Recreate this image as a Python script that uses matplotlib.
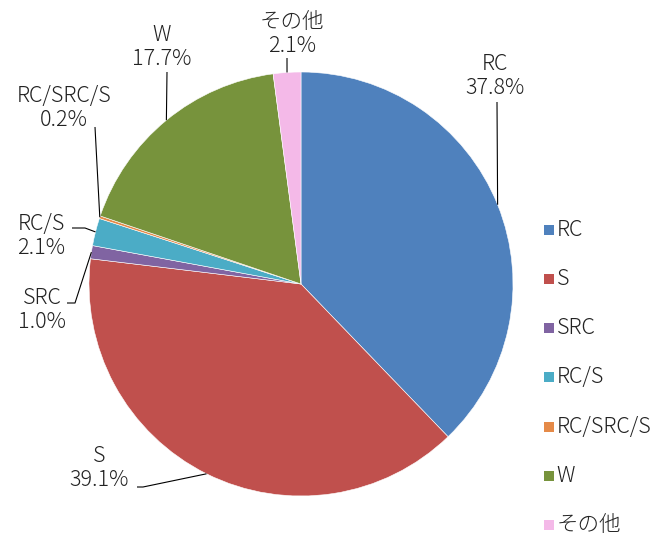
import numpy as np
import matplotlib
matplotlib.use('Agg')
import matplotlib.pyplot as plt

plt.rcParams['font.family'] = ['Noto Sans CJK JP', 'DejaVu Sans']

# DATA
labels = ['RC', 'S', 'SRC', 'RC/S', 'RC/SRC/S', 'W', 'その他']
shares = [37.8, 39.1, 1.0, 2.1, 0.2, 17.7, 2.1]
colors = ['#4F81BD', '#C0504D', '#8064A2', '#4BACC6', '#E58A48', '#77933C', '#F4B9E8']

# label layout (pixel coords, y from top): text centre and leader elbow points
label_pos = [(495, 76), (99, 468), (42, 310), (41, 236), (64, 108), (162, 47), (292, 34)]
leader_pts = [
    [(497, 102)],
    [(137, 487), (143, 487)],
    [(67, 303), (75, 303)],
    [(72, 228), (85, 228)],
    [(95, 127)],
    [(167, 72)],
    [(287, 58)],
]

W, H = 666, 538
CX, CY, R = 301, 538 - 284, 212

fig = plt.figure(figsize=(W / 100, H / 100), dpi=100)
ax = fig.add_axes([0, 0, 1, 1])
ax.set_xlim(0, W)
ax.set_ylim(0, H)
ax.set_aspect('equal')
ax.axis('off')

wedges, _ = ax.pie(shares, colors=colors, startangle=90, counterclock=False,
                   center=(CX, CY), radius=R,
                   wedgeprops=dict(edgecolor='white', linewidth=0.4))
ax.set_xlim(0, W)
ax.set_ylim(0, H)

# data labels with leader lines
total = sum(shares)
cum = 0
for i, (lab, v) in enumerate(zip(labels, shares)):
    mid = cum + v / 2
    cum += v
    ang = np.deg2rad(90 - 360 * mid / total)
    ex, ey = CX + R * np.cos(ang), CY + R * np.sin(ang)
    pts = [(x, H - y) for x, y in leader_pts[i]] + [(ex, ey)]
    xs, ys = zip(*pts)
    ax.plot(xs, ys, color='black', lw=0.8, solid_capstyle='butt')
    tx, ty = label_pos[i]
    ax.text(tx, H - ty, f'{lab}\n{v:.1f}%', ha='center', va='center',
            fontsize=15.5, fontweight='light', color='#222222', linespacing=1.15)

# legend
leg_x, leg_y0, leg_dy = 548.5, 229.5, 49.3
for i, (lab, c) in enumerate(zip(labels, colors)):
    y = H - (leg_y0 + i * leg_dy)
    ax.scatter([leg_x], [y], marker='s', s=55, color=c, linewidths=0)
    ax.text(leg_x + 8, y, lab, ha='left', va='center', fontsize=15.5,
            fontweight='light', color='#222222')

plt.savefig('out.png', dpi=100)
